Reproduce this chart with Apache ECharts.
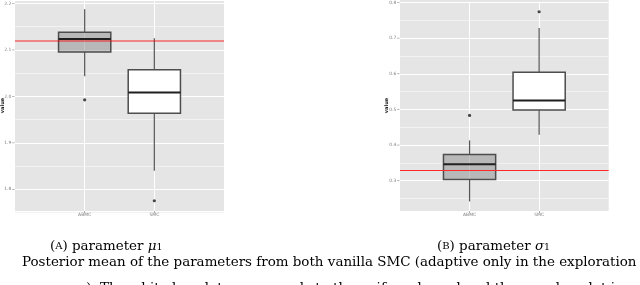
<!DOCTYPE html>
<html><head><meta charset="utf-8">
<script src="https://cdn.jsdelivr.net/npm/echarts@6/dist/echarts.min.js"></script>
<style>html,body{margin:0;padding:0;background:#fff}#c{width:640px;height:285px}</style>
</head><body><div id="c"></div>
<script>
// ---- data ----
const categories = ['ABMC', 'SMC'];
const axisCats = ['', 'ABMC', 'SMC', ''];
// [lower whisker, Q1, median, Q3, upper whisker]
const mu1ABMC = [2.0434, 2.0957, 2.1237, 2.1380, 2.1875];
const mu1SMC = [1.8398, 1.9639, 2.0082, 2.0576, 2.1250];
const mu1Outliers = [['ABMC', 1.9925], ['SMC', 1.7753]];
const mu1True = 2.117;
const mu1Ticks = [1.8, 1.9, 2.0, 2.1, 2.2];

const sigma1ABMC = [0.2417, 0.3036, 0.3464, 0.3733, 0.4130];
const sigma1SMC = [0.4289, 0.4980, 0.5250, 0.6044, 0.7286];
const sigma1Outliers = [['ABMC', 0.483], ['SMC', 0.774]];
const sigma1True = 0.3278;
const sigma1Ticks = [0.3, 0.4, 0.5, 0.6, 0.7, 0.8];

const boxFills = ['rgba(128,128,128,0.45)', '#ffffff'];

// ---- helpers ----
function yAxisFor(gi, min, max, ticks) {
  return {
    type: 'value', gridIndex: gi, min: min, max: max, interval: 0.1,
    axisLine: {show: false}, axisTick: {show: false},
    minorTick: {show: false, splitNumber: 2},
    minorSplitLine: {show: true, lineStyle: {color: '#f2f2f2', width: 1}},
    splitLine: {show: true, lineStyle: {color: '#ffffff', width: 1}},
    axisLabel: {
      margin: 0.5, color: '#7f7f7f', fontSize: 4.5, fontFamily: 'DejaVu Sans',
      showMinLabel: true, showMaxLabel: true,
      formatter: function (v) {
        const hit = ticks.some(t => Math.abs(t - v) < 1e-6);
        return hit ? '{v|' + v.toFixed(1) + '}{t|}' : '';
      },
      rich: {
        v: {fontSize: 4.5, color: '#7f7f7f', fontFamily: 'DejaVu Sans', padding: [0, 0.8, 0, 0]},
        t: {width: 2.4, height: 0.6, backgroundColor: '#8a8a8a'}
      }
    }
  };
}
function xAxisFor(gi, offset) {
  const keep = (i) => i === 1 || i === 2;
  return {
    type: 'category', gridIndex: gi, data: axisCats, boundaryGap: false, offset: offset,
    axisLine: {show: false},
    axisTick: {show: true, length: 2, interval: (i) => keep(i), lineStyle: {color: '#8a8a8a', width: 0.7}},
    axisLabel: {interval: (i) => keep(i), margin: 1, fontSize: 4.5, color: '#7f7f7f', fontFamily: 'DejaVu Sans'},
    splitLine: {show: true, interval: (i) => keep(i), lineStyle: {color: '#ffffff', width: 1}}
  };
}
function renderBox(params, api) {
  const xi = api.value(0);
  const lo = api.coord([xi, api.value(1)]);
  const q1 = api.coord([xi, api.value(2)]);
  const md = api.coord([xi, api.value(3)]);
  const q3 = api.coord([xi, api.value(4)]);
  const hi = api.coord([xi, api.value(5)]);
  const hw = api.size([1, 0])[0] * 0.375;
  const x = q1[0];
  const fill = boxFills[params.dataIndex];
  return {
    type: 'group',
    children: [
      {type: 'line', shape: {x1: x, y1: hi[1], x2: x, y2: q3[1]}, style: {stroke: '#555555', lineWidth: 1.2}},
      {type: 'line', shape: {x1: x, y1: q1[1], x2: x, y2: lo[1]}, style: {stroke: '#555555', lineWidth: 1.2}},
      {type: 'rect', shape: {x: x - hw, y: q3[1], width: 2 * hw, height: q1[1] - q3[1]},
        style: {fill: fill, stroke: '#4d4d4d', lineWidth: 1.5}},
      {type: 'line', shape: {x1: x - hw, y1: md[1], x2: x + hw, y2: md[1]}, style: {stroke: '#1f1f1f', lineWidth: 2}}
    ]
  };
}
function boxSeries(gi, a, b) {
  return {
    type: 'custom', xAxisIndex: gi, yAxisIndex: gi, renderItem: renderBox,
    encode: {x: 0, y: [1, 2, 3, 4, 5]}, z: 2,
    data: [[categories[0]].concat(a), [categories[1]].concat(b)]
  };
}
function outlierSeries(gi, pts, trueVal, lineStyle) {
  return {
    type: 'scatter', xAxisIndex: gi, yAxisIndex: gi, data: pts, symbol: 'circle', symbolSize: 3.2, z: 3,
    itemStyle: {color: '#1a1a1a'}, silent: true,
    markLine: {silent: true, symbol: 'none', label: {show: false},
      lineStyle: lineStyle, data: [{yAxis: trueVal}]}
  };
}

const capFont = 'DejaVu Serif';
const capSize = 13.45;
const capRich = {
  n: {fontSize: capSize, fontFamily: capFont, color: '#000'},
  sc: {fontSize: 10, fontFamily: capFont, color: '#000'},
  it: {fontSize: capSize, fontFamily: capFont, fontStyle: 'italic', color: '#000'},
  sub: {fontSize: 9.5, fontFamily: capFont, color: '#000', lineHeight: 5, verticalAlign: 'bottom'}
};

const chart = echarts.init(document.getElementById('c'), null, {renderer: 'canvas'});
chart.setOption({
  animation: false,
  backgroundColor: '#ffffff',
  grid: [
    {left: 15, top: 0, width: 209, height: 235.75},
    {left: 400, top: 0.3, width: 208.7, height: 216}
  ],
  xAxis: [xAxisFor(0, -24.75), xAxisFor(1, -5.3)],
  yAxis: [yAxisFor(0, 1.7, 2.2075, mu1Ticks), yAxisFor(1, 0.2, 0.8, sigma1Ticks)],
  series: [
    boxSeries(0, mu1ABMC, mu1SMC),
    outlierSeries(0, mu1Outliers, mu1True, {color: 'rgba(255,0,0,0.42)', width: 2, type: 'solid'}),
    boxSeries(1, sigma1ABMC, sigma1SMC),
    outlierSeries(1, sigma1Outliers, sigma1True, {color: '#ff2a2a', width: 1.2, type: 'solid'})
  ],
  graphic: {elements: [
    {type: 'rect', z: -10, shape: {x: 15, y: 0, width: 209, height: 211}, style: {fill: '#e5e5e5'}},
    {type: 'rect', z: -10, shape: {x: 400, y: 0, width: 208.7, height: 211}, style: {fill: '#e5e5e5'}},
    {type: 'text', z: 50, x: 3, y: 105.5, rotation: Math.PI / 2,
      style: {text: 'value', fontSize: 5, fontWeight: 'bold', fontFamily: 'DejaVu Sans', fill: '#222', align: 'center', verticalAlign: 'middle'}},
    {type: 'text', z: 50, x: 386.7, y: 105.5, rotation: Math.PI / 2,
      style: {text: 'value', fontSize: 5, fontWeight: 'bold', fontFamily: 'DejaVu Sans', fill: '#222', align: 'center', verticalAlign: 'middle'}},
    {type: 'text', z: 50, x: 50, y: 253,
      style: {text: '{n|(}{sc|A}{n|) parameter }{it|μ}{sub|1}', rich: capRich, verticalAlign: 'bottom', align: 'left'}},
    {type: 'text', z: 50, x: 437, y: 253,
      style: {text: '{n|(}{sc|B}{n|) parameter }{it|σ}{sub|1}', rich: capRich, verticalAlign: 'bottom', align: 'left'}},
    {type: 'text', z: 50, x: 22, y: 269,
      style: {text: 'Posterior mean of the parameters from both vanilla SMC (adaptive only in the exploration', fontSize: capSize, fontFamily: capFont, fill: '#000', verticalAlign: 'bottom', align: 'left'}},
    {type: 'text', z: 50, x: 22, y: 295,
      style: {text: 'sequence). The white boxplot corresponds to the uniform kernel and the grey boxplot is', fontSize: capSize, fontFamily: capFont, fill: '#000', verticalAlign: 'bottom', align: 'left'}}
  ]}
});
</script></body></html>
